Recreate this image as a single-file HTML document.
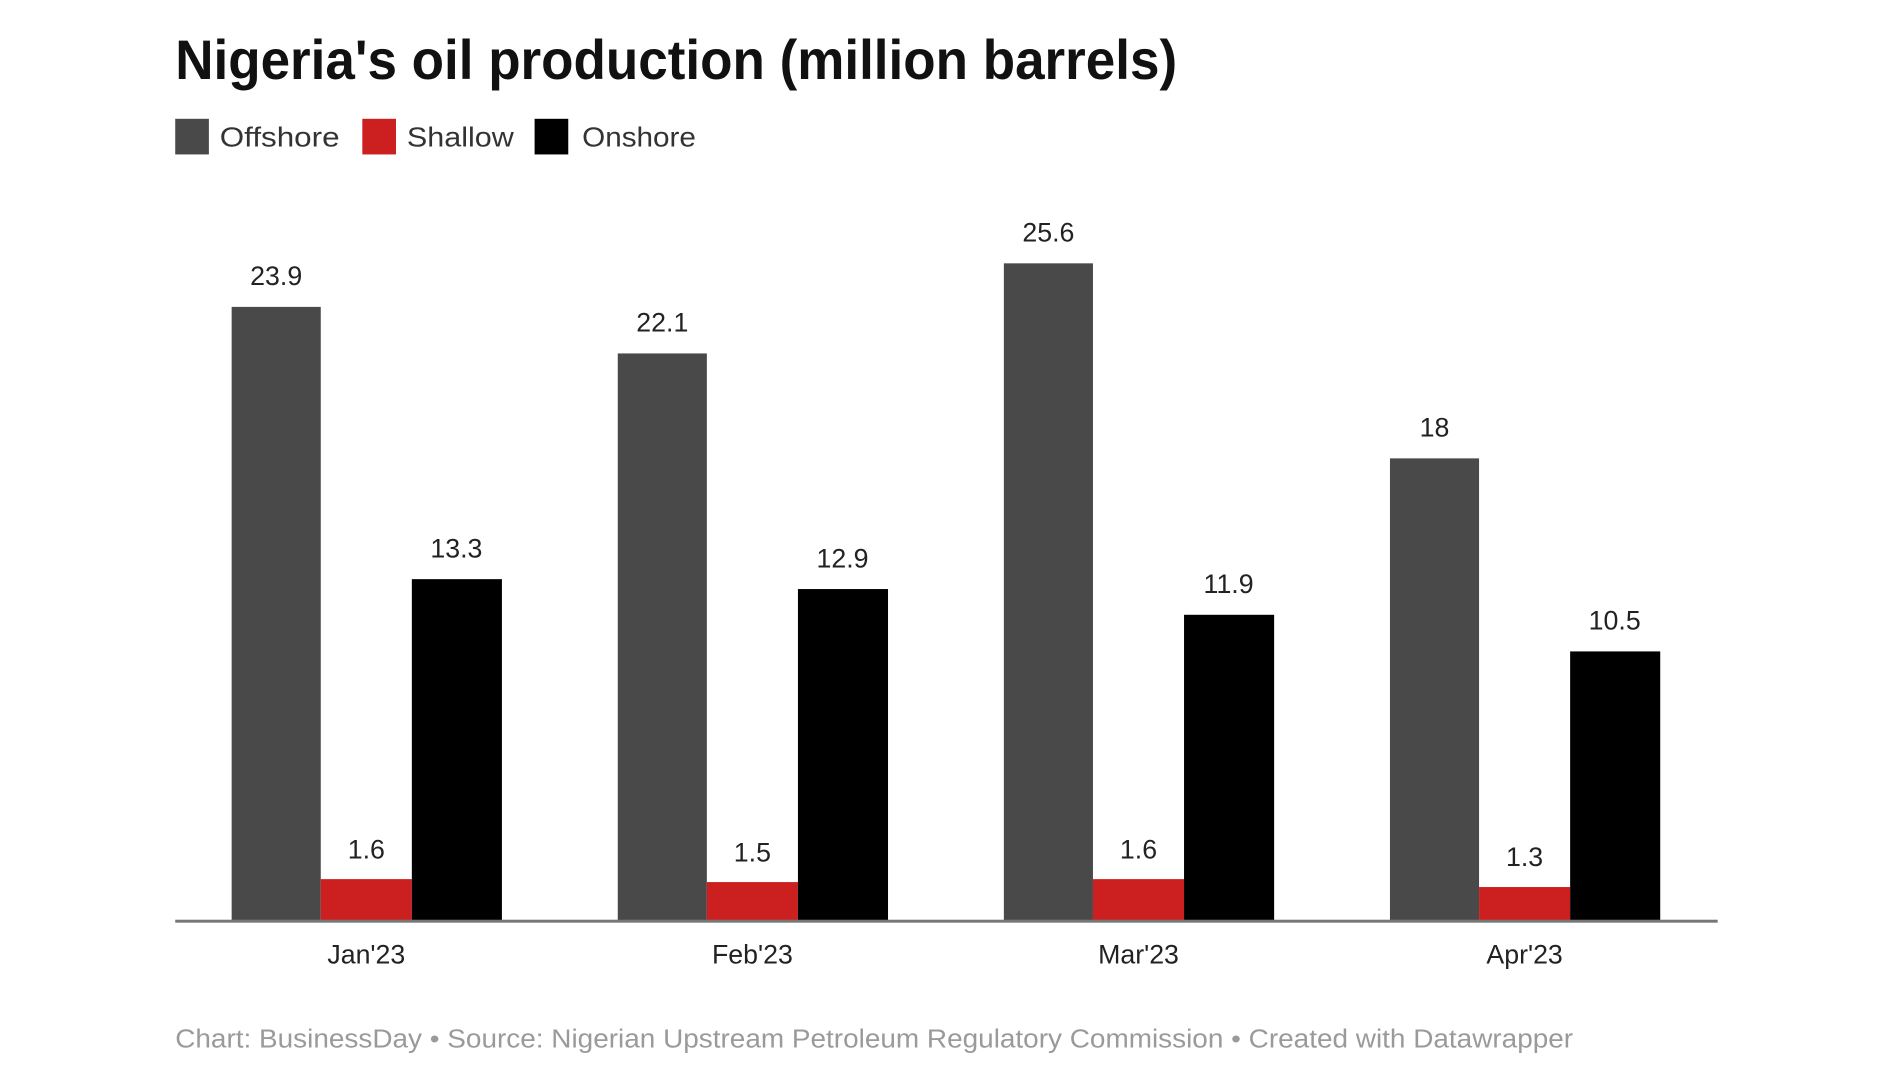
<!DOCTYPE html>
<html><head><meta charset="utf-8"><style>
html,body{margin:0;padding:0;background:#fff;}
svg{display:block;font-family:"Liberation Sans",sans-serif;}
</style></head><body>
<svg width="1890" height="1080" viewBox="0 0 1890 1080" xmlns="http://www.w3.org/2000/svg">
<g transform="scale(0.99)">
<text x="177" y="80" font-size="56" font-weight="bold" fill="#111" textLength="1012" lengthAdjust="spacingAndGlyphs">Nigeria's oil production (million barrels)</text>
<rect x="177" y="120" width="34" height="36" fill="#494949"/>
<text x="222" y="148" font-size="28" fill="#333" textLength="121" lengthAdjust="spacingAndGlyphs">Offshore</text>
<rect x="366" y="120" width="34" height="36" fill="#cc1f1f"/>
<text x="411" y="148" font-size="28" fill="#333" textLength="108" lengthAdjust="spacingAndGlyphs">Shallow</text>
<rect x="540" y="120" width="34" height="36" fill="#000"/>
<text x="588" y="148" font-size="28" fill="#333" textLength="115" lengthAdjust="spacingAndGlyphs">Onshore</text>
<g font-size="27" fill="#222" text-anchor="middle">
<rect x="234" y="310" width="90" height="620" fill="#494949"/>
<rect x="324" y="888" width="92" height="42" fill="#cc1f1f"/>
<rect x="416" y="585" width="91" height="345" fill="#000"/>
<text x="279" y="288">23.9</text><text x="370" y="867">1.6</text><text x="461" y="563">13.3</text>
<text x="370" y="973">Jan'23</text>
<rect x="624" y="357" width="90" height="573" fill="#494949"/>
<rect x="714" y="891" width="92" height="39" fill="#cc1f1f"/>
<rect x="806" y="595" width="91" height="335" fill="#000"/>
<text x="669" y="335">22.1</text><text x="760" y="870">1.5</text><text x="851" y="573">12.9</text>
<text x="760" y="973">Feb'23</text>
<rect x="1014" y="266" width="90" height="664" fill="#494949"/>
<rect x="1104" y="888" width="92" height="42" fill="#cc1f1f"/>
<rect x="1196" y="621" width="91" height="309" fill="#000"/>
<text x="1059" y="244">25.6</text><text x="1150" y="867">1.6</text><text x="1241" y="599">11.9</text>
<text x="1150" y="973">Mar'23</text>
<rect x="1404" y="463" width="90" height="467" fill="#494949"/>
<rect x="1494" y="896" width="92" height="34" fill="#cc1f1f"/>
<rect x="1586" y="658" width="91" height="272" fill="#000"/>
<text x="1449" y="441">18</text><text x="1540" y="875">1.3</text><text x="1631" y="636">10.5</text>
<text x="1540" y="973">Apr'23</text>
</g>
<rect x="177" y="929" width="1558" height="3" fill="#777"/>
<text x="177" y="1058" font-size="26" fill="#9a9a9a" textLength="1412" lengthAdjust="spacingAndGlyphs">Chart: BusinessDay • Source: Nigerian Upstream Petroleum Regulatory Commission • Created with Datawrapper</text>
</g>
</svg>
</body></html>
